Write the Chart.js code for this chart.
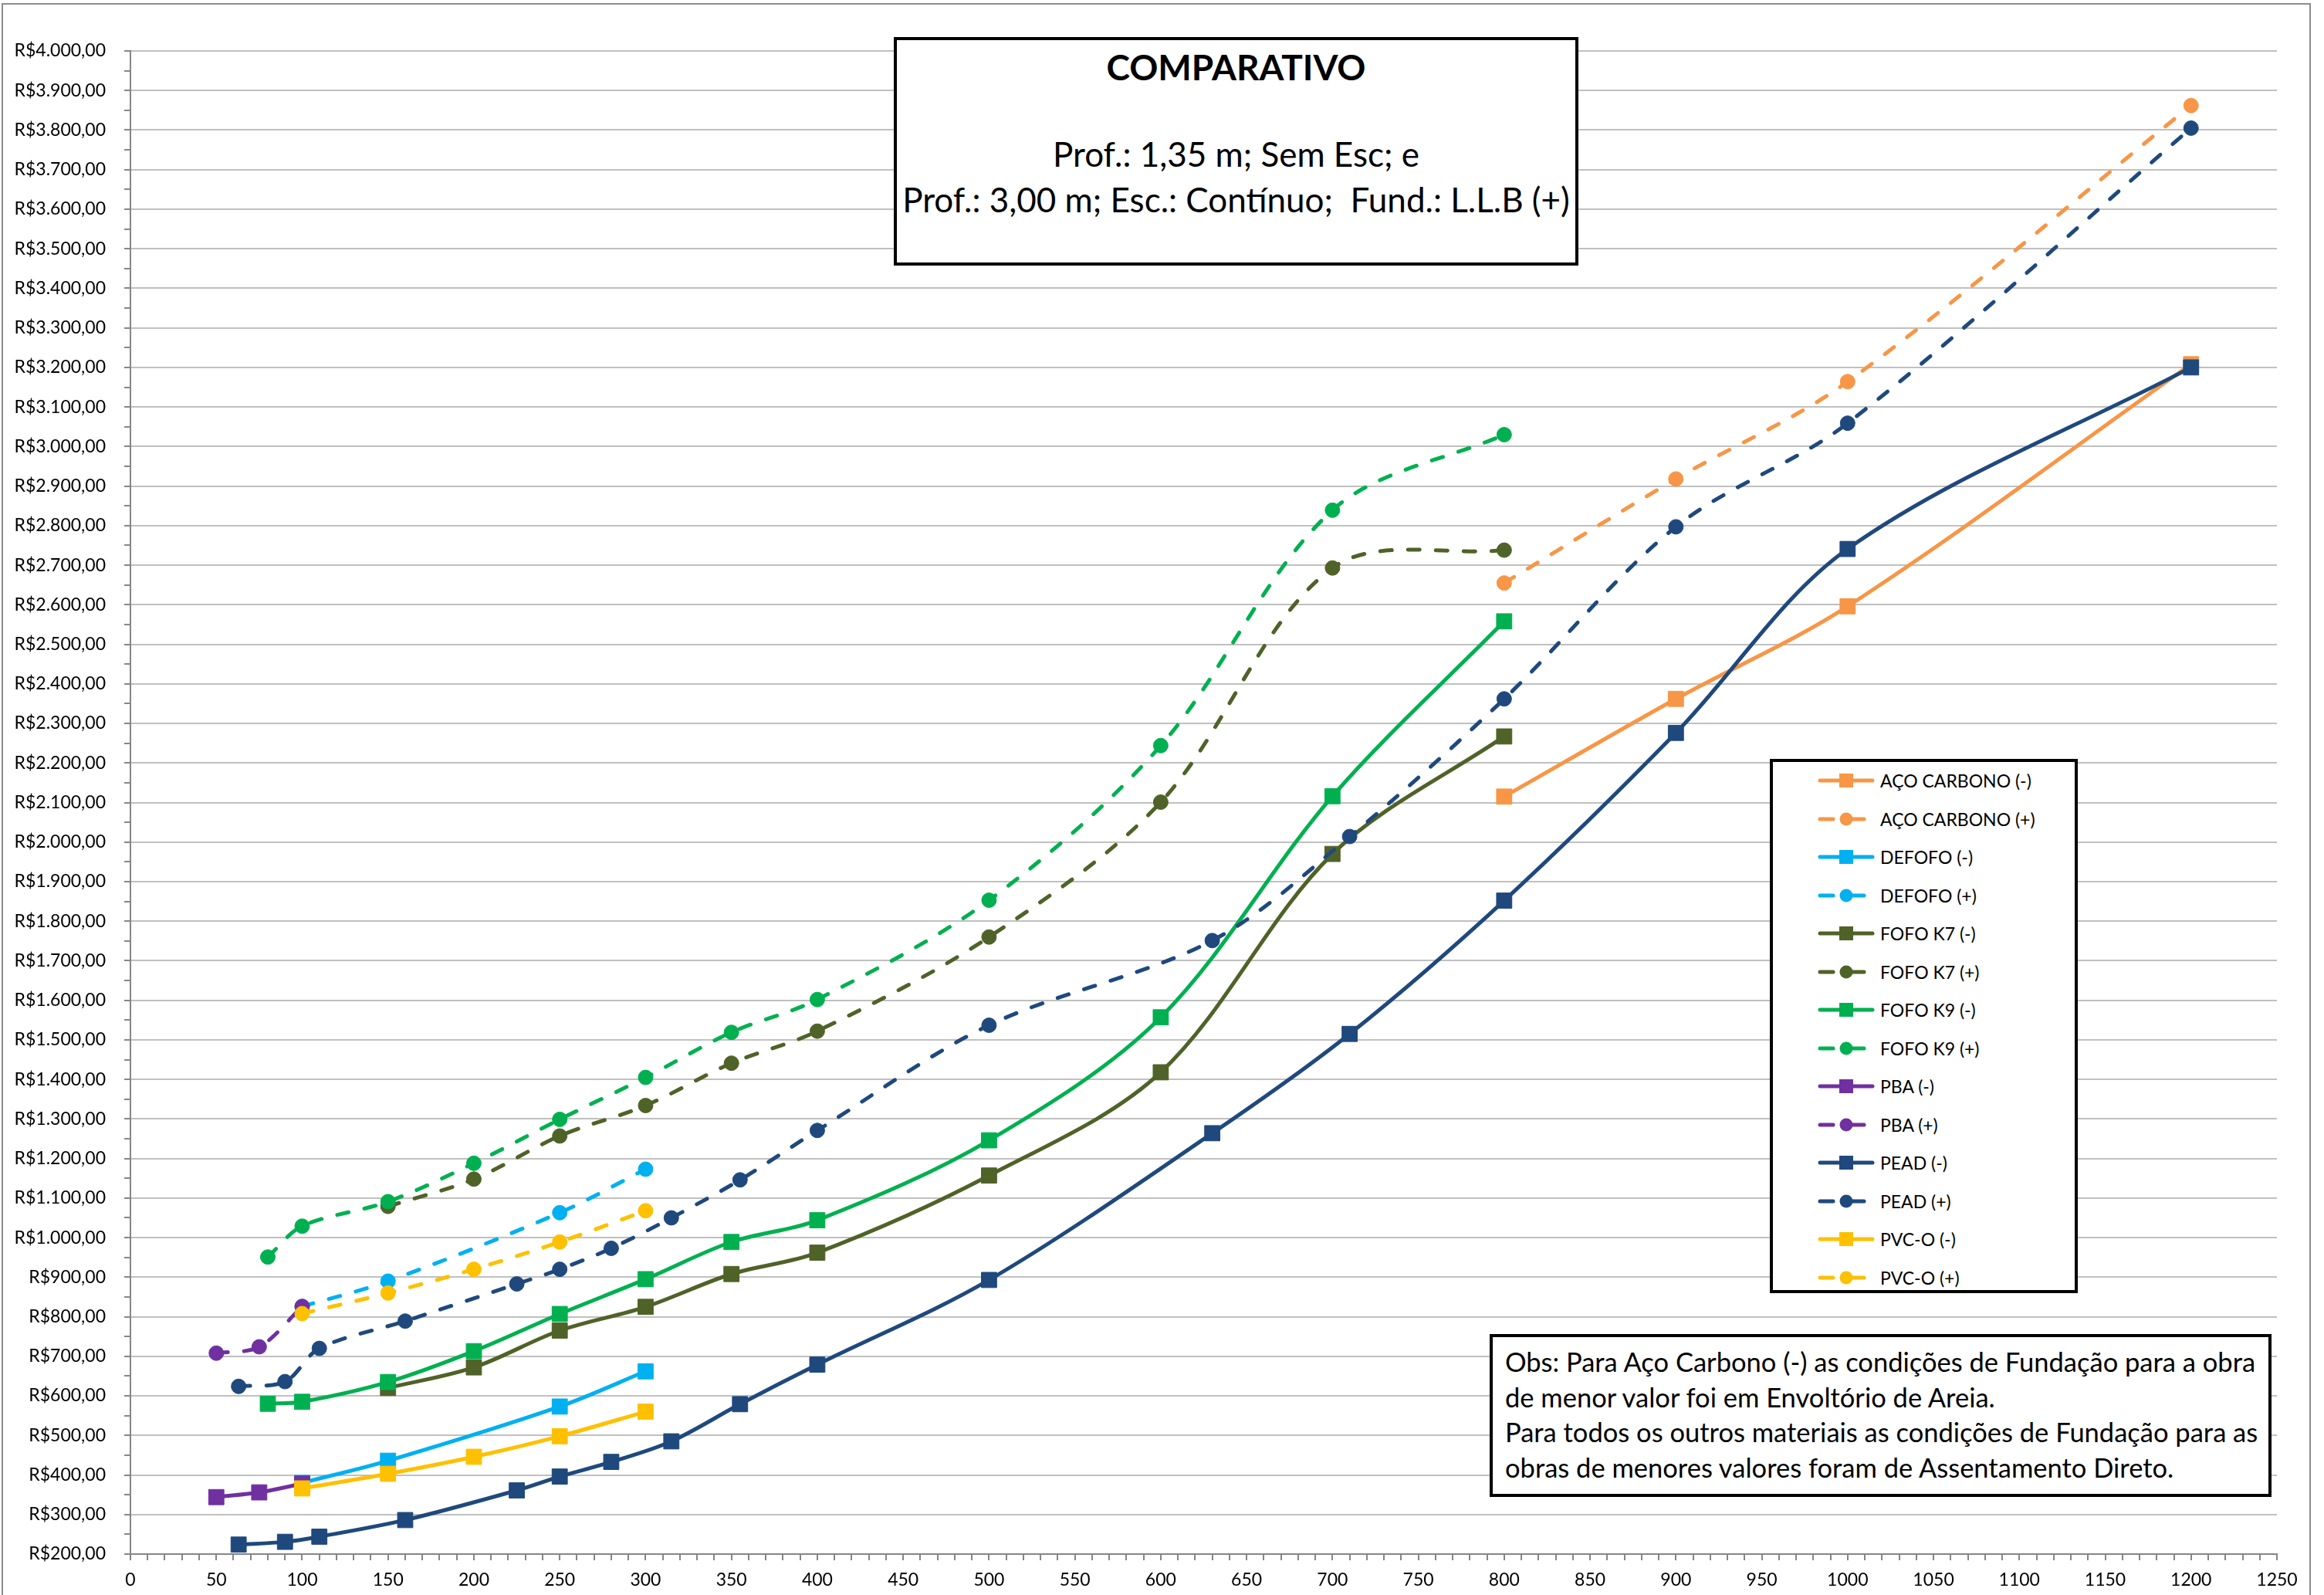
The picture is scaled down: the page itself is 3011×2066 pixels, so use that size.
<!DOCTYPE html>
<html>
<head>
<meta charset="utf-8">
<script src="https://cdn.jsdelivr.net/npm/chart.js@4.4.1/dist/chart.umd.min.js"></script>
<style>
  body { margin: 0; background: #fff; }
  #wrap { position: relative; width: 3011px; height: 2066px; overflow: hidden; font-family: Lato, sans-serif; }
  #frame { position: absolute; left: 2px; top: 4px; width: 2992px; height: 2100px; border: 2px solid #8c8c8c; box-sizing: border-box; pointer-events: none; }
  .box { position: absolute; background: #fff; border: 4px solid #000; box-sizing: border-box; }
  #titleBox { left: 1158px; top: 48px; width: 887px; height: 296px; text-align: center; color: #000; }
  #titleBox .t1 { position: absolute; left: 0; right: 0; top: 7px; font-weight: bold; font-size: 46px; line-height: 56px; }
  #titleBox .t2 { position: absolute; left: 0; right: 0; top: 118px; font-size: 44px; line-height: 59px; white-space: pre; }
  #legendBox { left: 2293px; top: 983px; width: 399px; height: 692px; }
  .lrow { position: absolute; left: 58px; height: 30px; display: flex; align-items: center; }
  .lrow span { margin-left: 7px; font-family: Lato, sans-serif; font-size: 23px; color: #000; white-space: nowrap; }
  #noteBox { left: 1930px; top: 1728px; width: 1013px; height: 211px; padding: 9px 0 0 16px; font-size: 34.5px; line-height: 45.5px; color: #000; white-space: nowrap; }
</style>
</head>
<body>
<div id="wrap">
  <canvas id="chart" width="3011" height="2066"></canvas>
  <div id="frame"></div>
  <div class="box" id="titleBox">
    <div class="t1">COMPARATIVO</div>
    <div class="t2">Prof.: 1,35 m; Sem Esc; e
Prof.: 3,00 m; Esc.: Contínuo;  Fund.: L.L.B (+)</div>
  </div>
  <div class="box" id="legendBox"></div>
  <div class="box" id="noteBox">Obs: Para Aço Carbono (-) as condições de Fundação para a obra<br>de menor valor foi em Envoltório de Areia.<br>Para todos os outros materiais as condições de Fundação para as<br>obras de menores valores foram de Assentamento Direto.</div>
</div>
<script>
// diâmetros (mm) e custos (R$/m)
const acoX = [800, 900, 1000, 1200];
const acoMenos = [2115, 2362, 2596, 3208];
const acoMais = [2655, 2918, 3164, 3862];

const defofoX = [100, 150, 250, 300];
const defofoMenos = [380, 436, 573, 662];
const defofoMais = [826, 890, 1063, 1173];

const k7X = [150, 200, 250, 300, 350, 400, 500, 600, 700, 800];
const k7Menos = [620, 672, 765, 825, 908, 962, 1157, 1418, 1970, 2267];
const k7Mais = [1079, 1148, 1257, 1334, 1441, 1522, 1760, 2101, 2693, 2738];

const k9X = [80, 100, 150, 200, 250, 300, 350, 400, 500, 600, 700, 800];
const k9Menos = [580, 585, 635, 713, 807, 895, 989, 1044, 1246, 1557, 2116, 2558];
const k9Mais = [951, 1029, 1091, 1188, 1299, 1405, 1519, 1602, 1853, 2244, 2839, 3030];

const pbaX = [50, 75, 100];
const pbaMenos = [344, 356, 378];
const pbaMais = [708, 724, 826];

const peadX = [63, 90, 110, 160, 225, 250, 280, 315, 355, 400, 500, 630, 710, 800, 900, 1000, 1200];
const peadMenos = [224, 231, 244, 286, 361, 396, 433, 485, 579, 679, 893, 1264, 1515, 1852, 2276, 2741, 3200];
const peadMais = [624, 636, 720, 789, 883, 920, 973, 1050, 1146, 1271, 1537, 1751, 2014, 2362, 2797, 3059, 3805];

const pvcX = [100, 150, 200, 250, 300];
const pvcMenos = [366, 403, 446, 498, 560];
const pvcMais = [808, 860, 920, 989, 1068];

const yMin = 200, yMax = 4000;
const xMin = 0, xMax = 1250;

const series = [
  { label: 'AÇO CARBONO (-)', xs: acoX, ys: acoMenos, color: '#F79646', plus: false },
  { label: 'AÇO CARBONO (+)', xs: acoX, ys: acoMais, color: '#F79646', plus: true },
  { label: 'DEFOFO (-)', xs: defofoX, ys: defofoMenos, color: '#00B0F0', plus: false },
  { label: 'DEFOFO (+)', xs: defofoX, ys: defofoMais, color: '#00B0F0', plus: true },
  { label: 'FOFO K7 (-)', xs: k7X, ys: k7Menos, color: '#4F6228', plus: false },
  { label: 'FOFO K7 (+)', xs: k7X, ys: k7Mais, color: '#4F6228', plus: true },
  { label: 'FOFO K9 (-)', xs: k9X, ys: k9Menos, color: '#00B050', plus: false },
  { label: 'FOFO K9 (+)', xs: k9X, ys: k9Mais, color: '#00B050', plus: true },
  { label: 'PBA (-)', xs: pbaX, ys: pbaMenos, color: '#7030A0', plus: false },
  { label: 'PBA (+)', xs: pbaX, ys: pbaMais, color: '#7030A0', plus: true },
  { label: 'PEAD (-)', xs: peadX, ys: peadMenos, color: '#1F497D', plus: false },
  { label: 'PEAD (+)', xs: peadX, ys: peadMais, color: '#1F497D', plus: true },
  { label: 'PVC-O (-)', xs: pvcX, ys: pvcMenos, color: '#FFC000', plus: false },
  { label: 'PVC-O (+)', xs: pvcX, ys: pvcMais, color: '#FFC000', plus: true },
];

function brl(v) {
  const s = String(Math.round(v)).replace(/\B(?=(\d{3})+(?!\d))/g, '.');
  return 'R$' + s + ',00';
}

// legenda
const legendBox = document.getElementById('legendBox');
series.forEach((s, i) => {
  const row = document.createElement('div');
  row.className = 'lrow';
  row.style.top = (9 + i * 49.5) + 'px';
  let svg = '<svg width="74" height="30" viewBox="0 0 74 30">';
  if (s.plus) {
    svg += `<line x1="3" y1="15" x2="20" y2="15" stroke="${s.color}" stroke-width="5" stroke-linecap="round"/>`;
    svg += `<line x1="44" y1="15" x2="60" y2="15" stroke="${s.color}" stroke-width="5" stroke-linecap="round"/>`;
    svg += `<circle cx="37" cy="15" r="8.5" fill="${s.color}"/>`;
  } else {
    svg += `<line x1="3" y1="15" x2="71" y2="15" stroke="${s.color}" stroke-width="5" stroke-linecap="round"/>`;
    svg += `<rect x="28" y="6" width="18" height="18" fill="${s.color}"/>`;
  }
  svg += '</svg>';
  row.innerHTML = svg + '<span>' + s.label + '</span>';
  legendBox.appendChild(row);
});

function draw() {
  Chart.defaults.font.family = 'Lato, sans-serif';
  Chart.defaults.color = '#000';

  const n = series.length;
  const datasets = series.map((s, i) => ({
    label: s.label,
    data: s.xs.map((x, k) => ({ x: x, y: s.ys[k] })),
    borderColor: s.color,
    backgroundColor: s.color,
    borderWidth: 5,
    borderDash: s.plus ? [15, 21] : [],
    borderCapStyle: 'round',
    tension: 0.33,
    pointStyle: s.plus ? 'circle' : 'rect',
    pointRadius: s.plus ? 9.5 : 14,
    pointBorderWidth: 1,
    pointBorderColor: s.color,
    pointBackgroundColor: s.color,
    fill: false,
    order: n - i,
  }));

  new Chart(document.getElementById('chart'), {
    type: 'line',
    data: { datasets },
    options: {
      responsive: false,
      animation: false,
      devicePixelRatio: 1,
      layout: { padding: { left: 0, top: 66, right: 61, bottom: 0 } },
      plugins: { legend: { display: false }, tooltip: { enabled: false } },
      scales: {
        x: {
          type: 'linear',
          min: xMin,
          max: xMax,
          afterFit: sc => { sc.height = 53; },
          border: { color: '#868686', width: 2 },
          grid: { drawOnChartArea: false, color: '#868686', tickLength: 8, lineWidth: 2 },
          ticks: {
            stepSize: 10,
            autoSkip: false,
            maxRotation: 0,
            padding: 12,
            font: { size: 23 },
            callback: v => (v % 50 === 0 ? String(v) : ''),
          },
        },
        y: {
          min: yMin,
          max: yMax,
          afterFit: sc => { sc.width = 169; },
          border: { color: '#868686', width: 2 },
          grid: {
            color: c => (c.tick && c.tick.value % 100 === 0 ? '#c0c0c0' : 'rgba(0,0,0,0)'),
            tickColor: '#868686',
            lineWidth: 2,
            tickLength: 8,
          },
          ticks: {
            stepSize: 50,
            autoSkip: false,
            padding: 24,
            font: { size: 23 },
            callback: v => (v % 100 === 0 ? brl(v) : ''),
          },
        },
      },
    },
  });
}

document.fonts.load('23px Lato').then(draw, draw);
</script>
</body>
</html>
